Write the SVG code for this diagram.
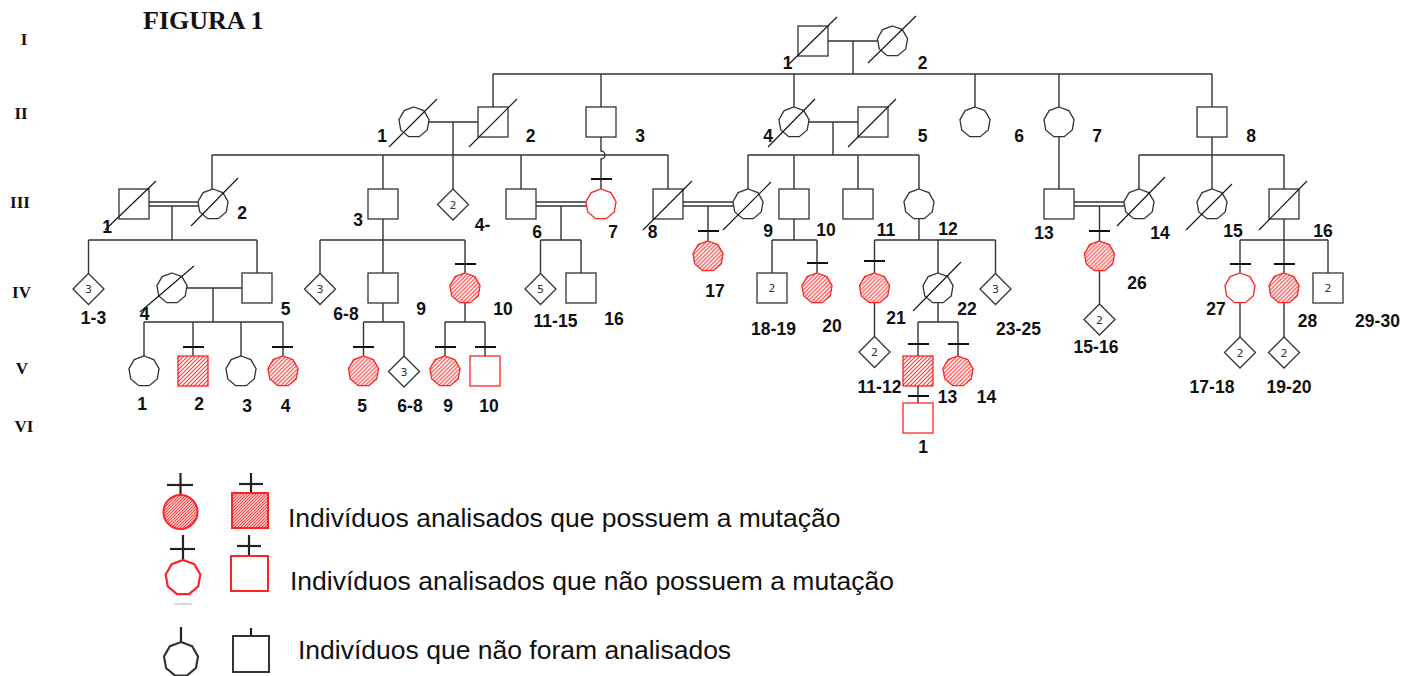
<svg xmlns="http://www.w3.org/2000/svg" width="1414" height="676" viewBox="0 0 1414 676">
<defs>
<style>
.ln{stroke:#333;stroke-width:1.4;fill:none}
.sh{fill:#fff;stroke:#333;stroke-width:1.3}
.ro{fill:#fff;stroke:#f22;stroke-width:1.3}
.rh{fill:url(#hatch);stroke:#f22;stroke-width:1.3}
.tk{stroke:#111;stroke-width:2}
.sl{stroke:#111;stroke-width:1.1}
.lb{font-family:"Liberation Sans",Arial,sans-serif;font-weight:bold;font-size:17.5px;text-anchor:middle;fill:#111}
.rn{font-family:"Liberation Serif","Times New Roman",serif;font-weight:bold;font-size:17px;text-anchor:middle;fill:#111}
.dn{font-family:"DejaVu Sans",sans-serif;font-size:11px;text-anchor:middle;fill:#333}
.lg{font-family:"Liberation Sans",Arial,sans-serif;font-size:26.5px;fill:#111}
.lgk{stroke:#222;stroke-width:2.2}
</style>
<pattern id="hatch" patternUnits="userSpaceOnUse" width="4" height="4">
<rect width="4" height="4" fill="#fff"/>
<path d="M-1,1 L1,-1 M0,4 L4,0 M3,5 L5,3" stroke="#f33" stroke-width="1.1"/>
</pattern>
<pattern id="hatch2" patternUnits="userSpaceOnUse" width="3" height="3">
<rect width="3" height="3" fill="#fbb"/>
<path d="M-1,1 L1,-1 M0,3 L3,0 M2,4 L4,2" stroke="#f44" stroke-width="1"/>
</pattern>
<polygon id="oct" points="0,-15.3 9.83,-11.72 15.07,-2.66 13.25,7.65 5.23,14.38 -5.23,14.38 -13.25,7.65 -15.07,-2.66 -9.83,-11.72"/>
<polygon id="dia" points="0,-15.5 15.5,0 0,15.5 -15.5,0"/>
</defs>
<rect width="1414" height="676" fill="#fff"/>

<g id="titles">
<text x="143" y="29" font-family="Liberation Serif, Times New Roman, serif" font-weight="bold" font-size="26" fill="#111">FIGURA 1</text>
<text class="rn" x="24" y="45">I</text>
<text class="rn" x="21" y="119">II</text>
<text class="rn" x="20" y="208">III</text>
<text class="rn" x="21.5" y="298">IV</text>
<text class="rn" x="22" y="374">V</text>
<text class="rn" x="24" y="432">VI</text>
</g>

<g id="connectors" class="ln">
<path d="M828,41 H878 M853,41 V74 M493,74 H1212 M493,74 V107 M601,74 V107 M794,74 V107 M975,74 V107 M1059,74 V107 M1212,74 V107"/>
<path d="M429,122 H478 M453,122 V155 M809,122 H858 M833,122 V155"/>
<path d="M601,137 V151 A4,4 0 0 1 601,159 V189"/>
<path d="M1059,136.7 V189 M1212,137 V155"/>
<path d="M212,155 H668 M212,155 V189 M383,155 V189 M453,155 V189 M521,155 V189 M668,155 V189"/>
<path d="M748,155 H919 M748,155 V189 M794,155 V189 M858,155 V189 M919,155 V189"/>
<path d="M1139,155 H1284 M1139,155 V189 M1212,155 V189 M1284,155 V189"/>
<path d="M149,202 H198 M149,206 H198 M536,202 H586 M536,206 H586 M683,202 H733 M683,206 H733 M1074,202 H1124 M1074,206 H1124"/>
<path d="M172,206 V240 M561,206 V240 M708,206 V241 M1099.5,206 V241"/>
<path d="M383,219 V240 M794,219 V240 M919,218.7 V240 M1284,219 V240"/>
<path d="M88.5,240 H257 M320,240 H465 M540.5,240 H581 M772,240 H817 M874.5,240 H995.5 M1240,240 H1328"/>
<path d="M88.5,240 V273.5 M257,240 V273 M320,240 V273.5 M383,240 V273 M465,240 V273 M540.5,240 V273.5 M581,240 V273 M772,240 V273 M817,240 V273 M874.5,240 V273 M938,240 V273 M995.5,240 V273.5 M1240,240 V273 M1284,240 V273 M1328,240 V273"/>
<path d="M187,288 H242 M213,288 V322 M144,322 H283 M144,322 V356 M193,322 V356 M241,322 V356 M283,322 V356"/>
<path d="M383,303 V322 M363.5,322 H404 M363.5,322 V356 M404,322 V356"/>
<path d="M465,302.7 V322 M445,322 H485 M445,322 V356 M485,322 V356"/>
<path d="M874.5,302.7 V336.5 M938,302.7 V322 M918,322 H958 M918,322 V356 M958,322 V356 M918,386 V403"/>
<path d="M1099.5,270.7 V304 M1240,302.7 V337 M1284,302.7 V337"/>
</g>

<g id="I-1"><rect class="sh" x="798" y="26" width="30" height="30"/><line class="sl" x1="788" y1="65" x2="837" y2="17"/><text class="lb" x="787.5" y="69">1</text></g>
<g id="I-2"><use href="#oct" class="sh" transform="translate(892.5,41.3)"/><line class="sl" x1="868" y1="63" x2="916" y2="16"/><text class="lb" x="922.5" y="69">2</text></g>

<g id="II-1"><use href="#oct" class="sh" transform="translate(414,122.3)"/><line class="sl" x1="389" y1="147" x2="437" y2="99"/><text class="lb" x="382" y="142">1</text></g>
<g id="II-2"><rect class="sh" x="478" y="107" width="30" height="30"/><line class="sl" x1="469" y1="147" x2="517" y2="99"/><text class="lb" x="530.5" y="142">2</text></g>
<g id="II-3"><rect class="sh" x="586" y="107" width="30" height="30"/><text class="lb" x="640" y="142">3</text></g>
<g id="II-4"><use href="#oct" class="sh" transform="translate(794,122.3)"/><line class="sl" x1="768" y1="147" x2="815" y2="99"/><text class="lb" x="768" y="142">4</text></g>
<g id="II-5"><rect class="sh" x="858" y="107" width="30" height="30"/><line class="sl" x1="848" y1="147" x2="896" y2="99"/><text class="lb" x="922.5" y="142">5</text></g>
<g id="II-6"><use href="#oct" class="sh" transform="translate(975,122.3)"/><text class="lb" x="1019" y="142">6</text></g>
<g id="II-7"><use href="#oct" class="sh" transform="translate(1059,122.3)"/><text class="lb" x="1097" y="142">7</text></g>
<g id="II-8"><rect class="sh" x="1197" y="107" width="30" height="30"/><text class="lb" x="1251" y="142">8</text></g>

<g id="III-1"><rect class="sh" x="119" y="189" width="30" height="30"/><line class="sl" x1="105" y1="230" x2="156" y2="181"/><text class="lb" x="107" y="233">1</text></g>
<g id="III-2"><use href="#oct" class="sh" transform="translate(213,204.3)"/><line class="sl" x1="191" y1="226" x2="238" y2="178"/><text class="lb" x="242" y="219">2</text></g>
<g id="III-3"><rect class="sh" x="368" y="189" width="30" height="30"/><text class="lb" x="358" y="226">3</text></g>
<g id="III-4"><use href="#dia" class="sh" transform="translate(453,204.5)"/><text class="dn" x="453" y="208.5">2</text><text class="lb" x="482.5" y="231">4-</text></g>
<g id="III-6"><rect class="sh" x="506" y="189" width="30" height="30"/><text class="lb" x="537" y="238">6</text></g>
<g id="III-7"><use href="#oct" class="ro" transform="translate(601,204.3)"/><line class="tk" x1="591" y1="179" x2="612" y2="179"/><text class="lb" x="613" y="238">7</text></g>
<g id="III-8"><rect class="sh" x="653" y="189" width="30" height="30"/><line class="sl" x1="643" y1="230" x2="692" y2="181"/><text class="lb" x="652.5" y="238">8</text></g>
<g id="III-9"><use href="#oct" class="sh" transform="translate(748,204.3)"/><line class="sl" x1="723" y1="230" x2="771" y2="182"/><text class="lb" x="768" y="237">9</text></g>
<g id="III-10"><rect class="sh" x="779" y="189" width="30" height="30"/><text class="lb" x="826" y="236">10</text></g>
<g id="III-11"><rect class="sh" x="843" y="189" width="30" height="30"/><text class="lb" x="886" y="236">11</text></g>
<g id="III-12"><use href="#oct" class="sh" transform="translate(919,204.3)"/><text class="lb" x="948" y="235">12</text></g>
<g id="III-13"><rect class="sh" x="1044" y="189" width="30" height="30"/><text class="lb" x="1044" y="239">13</text></g>
<g id="III-14"><use href="#oct" class="sh" transform="translate(1139,204.3)"/><line class="sl" x1="1117" y1="226" x2="1165" y2="177"/><text class="lb" x="1160" y="239">14</text></g>
<g id="III-15"><use href="#oct" class="sh" transform="translate(1212,204.3)"/><line class="sl" x1="1186" y1="230" x2="1232" y2="184"/><text class="lb" x="1233" y="237">15</text></g>
<g id="III-16"><rect class="sh" x="1269" y="189" width="30" height="30"/><line class="sl" x1="1259" y1="230" x2="1307" y2="181"/><text class="lb" x="1323" y="237">16</text></g>

<g id="IV-1-3"><use href="#dia" class="sh" transform="translate(88.5,289)"/><text class="dn" x="88.5" y="293">3</text><text class="lb" x="93.5" y="324">1-3</text></g>
<g id="IV-4"><use href="#oct" class="sh" transform="translate(172,288.3)"/><line class="sl" x1="140" y1="312" x2="194" y2="266"/><text class="lb" x="144.5" y="320">4</text></g>
<g id="IV-5"><rect class="sh" x="242" y="273" width="30" height="30"/><text class="lb" x="285.5" y="315">5</text></g>
<g id="IV-6-8"><use href="#dia" class="sh" transform="translate(320,289)"/><text class="dn" x="320" y="293">3</text><text class="lb" x="346" y="320">6-8</text></g>
<g id="IV-9"><rect class="sh" x="368" y="273" width="30" height="30"/><text class="lb" x="421" y="315">9</text></g>
<g id="IV-10"><use href="#oct" class="rh" transform="translate(465,288.3)"/><line class="tk" x1="455" y1="264" x2="476" y2="264"/><text class="lb" x="503" y="315">10</text></g>
<g id="IV-11-15"><use href="#dia" class="sh" transform="translate(540.5,289)"/><text class="dn" x="540.5" y="293">5</text><text class="lb" x="555.5" y="327">11-15</text></g>
<g id="IV-16"><rect class="sh" x="566" y="273" width="30" height="30"/><text class="lb" x="614" y="325">16</text></g>
<g id="IV-17"><use href="#oct" class="rh" transform="translate(708,256.3)"/><line class="tk" x1="698" y1="231" x2="719" y2="231"/><text class="lb" x="715" y="297">17</text></g>
<g id="IV-18-19"><rect class="sh" x="757" y="273" width="30" height="30"/><text class="dn" x="772" y="292">2</text><text class="lb" x="773.5" y="335">18-19</text></g>
<g id="IV-20"><use href="#oct" class="rh" transform="translate(817,288.3)"/><line class="tk" x1="807" y1="263" x2="828" y2="263"/><text class="lb" x="832" y="332">20</text></g>
<g id="IV-21"><use href="#oct" class="rh" transform="translate(874.5,288.3)"/><line class="tk" x1="864" y1="261" x2="885" y2="261"/><text class="lb" x="896" y="324">21</text></g>
<g id="IV-22"><use href="#oct" class="sh" transform="translate(938,288.3)"/><line class="sl" x1="913" y1="311" x2="961" y2="262"/><text class="lb" x="967" y="315">22</text></g>
<g id="IV-23-25"><use href="#dia" class="sh" transform="translate(995.5,289)"/><text class="dn" x="995.5" y="293">3</text><text class="lb" x="1018.5" y="335">23-25</text></g>
<g id="IV-26"><use href="#oct" class="rh" transform="translate(1099.5,256.3)"/><line class="tk" x1="1089" y1="231" x2="1110" y2="231"/><text class="lb" x="1137" y="289">26</text></g>
<g id="IV-27"><use href="#oct" class="ro" transform="translate(1240,288.3)"/><line class="tk" x1="1230" y1="264" x2="1251" y2="264"/><text class="lb" x="1216" y="315">27</text></g>
<g id="IV-28"><use href="#oct" class="rh" transform="translate(1284,288.3)"/><line class="tk" x1="1274" y1="264" x2="1295" y2="264"/><text class="lb" x="1307.5" y="327">28</text></g>
<g id="IV-29-30"><rect class="sh" x="1313" y="273" width="30" height="30"/><text class="dn" x="1328" y="292">2</text><text class="lb" x="1377.5" y="327">29-30</text></g>

<g id="V-1"><use href="#oct" class="sh" transform="translate(144,371.3)"/><text class="lb" x="142" y="410">1</text></g>
<g id="V-2"><rect class="rh" x="178" y="356" width="30" height="30"/><line class="tk" x1="183" y1="347" x2="204" y2="347"/><text class="lb" x="199" y="410">2</text></g>
<g id="V-3"><use href="#oct" class="sh" transform="translate(241,371.3)"/><text class="lb" x="247" y="412">3</text></g>
<g id="V-4"><use href="#oct" class="rh" transform="translate(283,371.3)"/><line class="tk" x1="272" y1="347" x2="293" y2="347"/><text class="lb" x="285.5" y="412">4</text></g>
<g id="V-5"><use href="#oct" class="rh" transform="translate(363.5,371.3)"/><line class="tk" x1="353" y1="347" x2="374" y2="347"/><text class="lb" x="362" y="412">5</text></g>
<g id="V-6-8"><use href="#dia" class="sh" transform="translate(404,371.5)"/><text class="dn" x="404" y="375.5">3</text><text class="lb" x="410" y="412">6-8</text></g>
<g id="V-9"><use href="#oct" class="rh" transform="translate(445,371.3)"/><line class="tk" x1="435" y1="347" x2="456" y2="347"/><text class="lb" x="448" y="412">9</text></g>
<g id="V-10"><rect class="ro" x="470" y="356" width="30" height="30"/><line class="tk" x1="475" y1="347" x2="496" y2="347"/><text class="lb" x="489" y="412">10</text></g>
<g id="V-11-12"><use href="#dia" class="sh" transform="translate(874.5,352)"/><text class="dn" x="874.5" y="356">2</text><text class="lb" x="879.5" y="393">11-12</text></g>
<g id="V-13"><rect class="rh" x="903" y="356" width="30" height="30"/><line class="tk" x1="908" y1="344" x2="929" y2="344"/><text class="lb" x="947.5" y="403">13</text></g>
<g id="V-14"><use href="#oct" class="rh" transform="translate(958,371.3)"/><line class="tk" x1="948" y1="344" x2="969" y2="344"/><text class="lb" x="986.5" y="403">14</text></g>
<g id="V-15-16"><use href="#dia" class="sh" transform="translate(1099.5,319.5)"/><text class="dn" x="1099.5" y="323.5">2</text><text class="lb" x="1096" y="353">15-16</text></g>
<g id="V-17-18"><use href="#dia" class="sh" transform="translate(1240,352.5)"/><text class="dn" x="1240" y="356.5">2</text><text class="lb" x="1212" y="393">17-18</text></g>
<g id="V-19-20"><use href="#dia" class="sh" transform="translate(1284,352.5)"/><text class="dn" x="1284" y="356.5">2</text><text class="lb" x="1289" y="393">19-20</text></g>

<g id="VI-1"><rect class="ro" x="903" y="403" width="30" height="30"/><line class="tk" x1="908" y1="396" x2="929" y2="396"/><text class="lb" x="923" y="453">1</text></g>

<g id="legend">
<g id="leg-mut">
<line class="lgk" x1="180.5" y1="473" x2="180.5" y2="495"/><line class="lgk" x1="167" y1="485" x2="193" y2="485"/>
<circle cx="180.5" cy="512" r="17" fill="url(#hatch2)" stroke="#f22" stroke-width="2"/>
<line class="lgk" x1="251" y1="473" x2="251" y2="493"/><line class="lgk" x1="239" y1="484" x2="263" y2="484"/>
<rect x="232" y="493" width="36" height="35" fill="url(#hatch2)" stroke="#f22" stroke-width="2"/>
<text class="lg" x="288" y="527">Indivíduos analisados que possuem a mutação</text>
</g>
<g id="leg-nomut">
<line class="lgk" x1="183" y1="535" x2="183" y2="560"/><line class="lgk" x1="170" y1="549" x2="195" y2="549"/>
<use href="#oct" transform="translate(183,577.6) scale(1.15)" fill="#fff" stroke="#f22" stroke-width="1.9"/>
<line x1="174" y1="604" x2="192" y2="604" stroke="#ccc" stroke-width="1.5"/>
<line class="lgk" x1="249" y1="535" x2="249" y2="556"/><line class="lgk" x1="237" y1="546" x2="261" y2="546"/>
<rect x="231" y="556" width="37" height="35" fill="#fff" stroke="#f22" stroke-width="2"/>
<text class="lg" x="290" y="590">Indivíduos analisados que não possuem a mutação</text>
</g>
<g id="leg-na">
<line class="lgk" x1="181" y1="627" x2="181" y2="642"/>
<use href="#oct" transform="translate(181,659.4) scale(1.13)" fill="#fff" stroke="#333" stroke-width="1.9"/>
<line class="lgk" x1="251" y1="628" x2="251" y2="636"/>
<rect x="233" y="636" width="36" height="36" fill="#fff" stroke="#333" stroke-width="2"/>
<text class="lg" x="298" y="659">Indivíduos que não foram analisados</text>
</g>
</g>
</svg>
